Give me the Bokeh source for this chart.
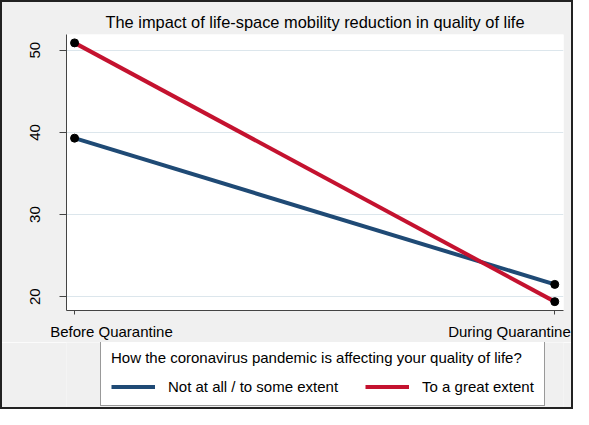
from bokeh.plotting import figure
from bokeh.layouts import column
from bokeh.models import (FixedTicker, Legend, LegendItem, Range1d, ColumnDataSource)
from bokeh.embed import file_html
from bokeh.resources import INLINE

# ---- data ----
periods = ["Before Quarantine", "During Quarantine"]
period_x = [0, 1]
not_at_all = [39.3, 21.5]
great_extent = [50.9, 19.4]
y_ticks = [20, 30, 40, 50]
series_names = ["Not at all / to some extent", "To a great extent"]
legend_title = "How the coronavirus pandemic is affecting your quality of life?"
title_text = "The impact of life-space mobility reduction in quality of life"

BLUE = "#1f4a75"
RED = "#c4122f"
FONT = "Liberation Sans"
BG = "#f0f0f0"
W = 573

p = figure(width=W, height=342, output_backend="svg", toolbar_location=None,
           x_range=Range1d(-0.0168, 1.0182), y_range=Range1d(18.32, 51.92),
           min_border_left=66, min_border_right=10, min_border_top=34,
           min_border_bottom=28)
p.background_fill_color = "white"
p.border_fill_color = BG
p.outline_line_color = None

# title
p.title.text = title_text
p.title.align = "center"
p.title.text_font = FONT
p.title.text_font_size = "16.4px"
p.title.text_font_style = "normal"
p.title.text_color = "#000000"
p.title.standoff = 7

# grid
p.xgrid.visible = False
p.ygrid.ticker = FixedTicker(ticks=y_ticks)
p.ygrid.grid_line_color = "#dce6ec"
p.ygrid.grid_line_width = 1

# y axis
p.yaxis.ticker = FixedTicker(ticks=y_ticks)
p.yaxis.major_label_orientation = "vertical"
p.yaxis.major_label_text_font = FONT
p.yaxis.major_label_text_font_size = "15px"
p.yaxis.major_label_text_color = "#000000"
p.yaxis.major_label_standoff = 19
p.yaxis.major_tick_out = 7
p.yaxis.major_tick_in = 0
p.yaxis.minor_tick_line_color = None
p.yaxis.axis_line_color = "#444444"
p.yaxis.major_tick_line_color = "#444444"

# x axis: tick marks at data positions, labels shifted inward (as in the original)
label_pos = [period_x[0] + 0.0768, period_x[1] - 0.0943]
p.xaxis.ticker = FixedTicker(ticks=label_pos, minor_ticks=period_x)
p.xaxis.major_label_overrides = {label_pos[i]: periods[i] for i in range(2)}
p.xaxis.major_tick_line_color = None
p.xaxis.major_tick_out = 0
p.xaxis.major_tick_in = 0
p.xaxis.minor_tick_out = 4
p.xaxis.minor_tick_in = 0
p.xaxis.minor_tick_line_color = "#444444"
p.xaxis.axis_line_color = "#444444"
p.xaxis.major_label_text_font = FONT
p.xaxis.major_label_text_font_size = "15px"
p.xaxis.major_label_text_color = "#000000"
p.xaxis.major_label_standoff = 8

# lines
src = ColumnDataSource(dict(x=period_x, a=not_at_all, b=great_extent))
p.line("x", "a", source=src, line_color=BLUE, line_width=4)
p.line("x", "b", source=src, line_color=RED, line_width=4)
p.scatter("x", "a", source=src, size=8, color="black")
p.scatter("x", "b", source=src, size=8, color="black")

# legend strip below the graph (its frame is aligned with the graph's frame)
q = figure(width=W, height=67, output_backend="svg", toolbar_location=None,
           x_axis_type=None, y_axis_type=None,
           x_range=Range1d(0, 1), y_range=Range1d(0, 1),
           min_border_left=0, min_border_right=0, min_border_top=0, min_border_bottom=0)
q.background_fill_color = BG
q.border_fill_color = BG
q.outline_line_color = None
q.grid.visible = False
nan = float("nan")
k1 = q.line(x=[nan], y=[nan], line_color=BLUE, line_width=4)
k2 = q.line(x=[nan], y=[nan], line_color=RED, line_width=4)

legend = Legend(items=[LegendItem(label=series_names[0], renderers=[k1]),
                       LegendItem(label=series_names[1], renderers=[k2])],
                orientation="horizontal", location=(34, 3))
legend.title = legend_title
legend.title_text_font = FONT
legend.title_text_font_size = "15px"
legend.title_text_font_style = "normal"
legend.title_text_color = "#000000"
legend.title_standoff = 12
legend.label_text_font = FONT
legend.label_text_font_size = "15px"
legend.label_text_color = "#000000"
legend.glyph_width = 44
legend.glyph_height = 17
legend.label_standoff = 13
legend.spacing = 27
legend.padding = 10
legend.margin = 0
legend.border_line_color = "#333333"
legend.border_line_width = 1
legend.background_fill_color = "white"
legend.background_fill_alpha = 1
q.add_layout(legend, "center")

frame_css = (":host::after { content: ''; position: absolute; left: 0; top: 0; "
             "right: 0; bottom: 0; border: 2px solid #222222; pointer-events: none; "
             "z-index: 100; }")
layout = column(p, q, spacing=0, stylesheets=[frame_css])

open("out.html", "w").write(file_html(layout, INLINE))
